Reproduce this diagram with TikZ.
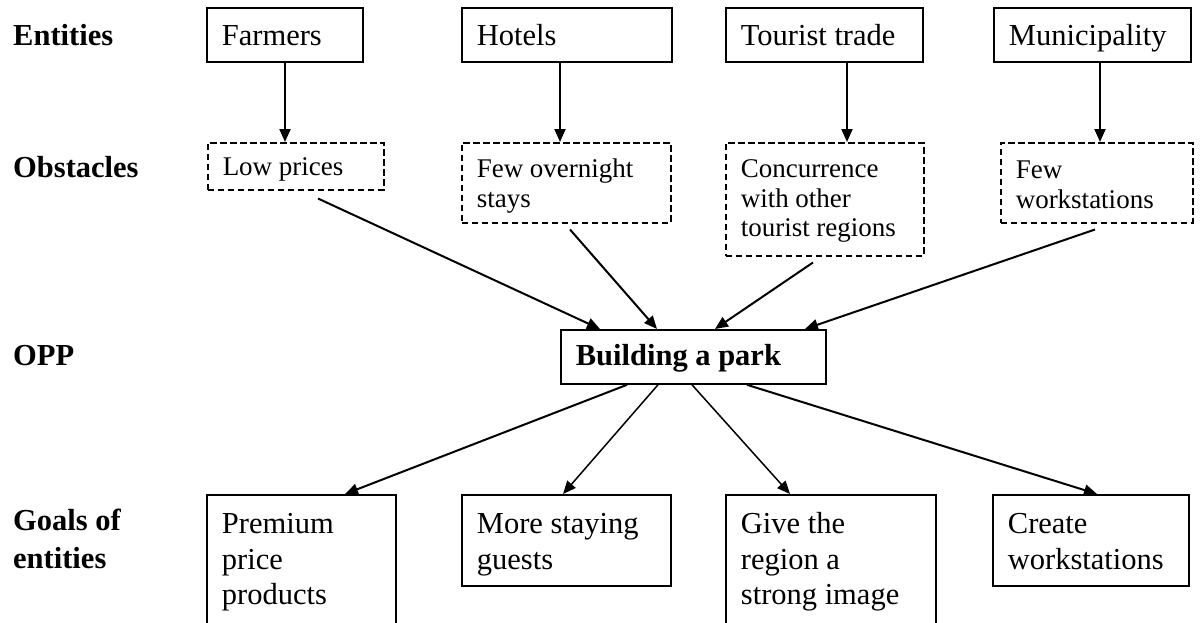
\documentclass[tikz,border=0pt]{standalone}
\usepackage{fontspec}
\setmainfont{Liberation Serif}
\usetikzlibrary{arrows.meta,calc}

% font sizes (1pt = 1 unit of the picture)
\newcommand\entfont{\fontsize{30.5}{35.5}\selectfont}
\newcommand\obsfont{\fontsize{27}{29.5}\selectfont}
\newcommand\labfont{\fontsize{30.5}{38}\selectfont\bfseries}

% box content: font, width, height, first baseline below top, text
\newcommand\cellbox[5]{\parbox[c][#3][t]{#2}{#1\vspace*{\dimexpr#4-0.7\baselineskip\relax}\raggedright\leftskip=15pt\strut#5}}

\tikzset{
  ent/.style={draw, line width=1.8pt, inner sep=0pt, anchor=north west},
  obs/.style={ent, line width=1.5pt, dash pattern=on 6.5pt off 3.5pt},
  lab/.style={anchor=base west, inner sep=0pt, font=\labfont},
  arr/.style={-{Triangle[length=13pt,width=11pt]}, line width=2pt},
  thinarr/.style={-{Triangle[length=13pt,width=11pt]}, line width=1.5pt},
}

\begin{document}
\begin{tikzpicture}[x=1pt, y=-1pt]
  \clip (0,0) rectangle (1200,622);
  \fill[white] (0,0) rectangle (1200,622);

  % row labels
  \node[lab] (lent) at (13,45) {Entities};
  \node[lab] (lobs) at (13,177) {Obstacles};
  \node[lab] (lopp) at (13,365) {OPP};
  \node[lab] (lgoal) at (13,530) {\parbox[t]{200pt}{\labfont Goals of\\entities}};

  % entities
  \node[ent] (farm) at (206,7) {\cellbox{\entfont}{156pt}{54pt}{38pt}{Farmers}};
  \node[ent] (hotel) at (461,7) {\cellbox{\entfont}{210pt}{54pt}{38pt}{Hotels}};
  \node[ent] (tour) at (725,7) {\cellbox{\entfont}{197pt}{54pt}{38pt}{Tourist trade}};
  \node[ent] (muni) at (993,7) {\cellbox{\entfont}{197pt}{54pt}{38pt}{Municipality}};

  % obstacles
  \node[obs] (lowp) at (207,142) {\cellbox{\obsfont}{176pt}{47pt}{33pt}{Low prices}};
  \node[obs] (ovn) at (461,142) {\cellbox{\obsfont}{209pt}{80pt}{35pt}{Few overnight\\stays}};
  \node[obs] (conc) at (725,142) {\cellbox{\obsfont}{198pt}{113pt}{35pt}{Concurrence\\with other\\tourist regions}};
  \node[obs] (fws) at (1000,142) {\cellbox{\obsfont}{192pt}{80pt}{36pt}{Few\\workstations}};

  % OPP
  \node[ent] (opp) at (560,329) {\cellbox{\entfont\bfseries}{265pt}{54pt}{36pt}{Building a park}};

  % goals of entities
  \node[ent] (prem) at (206,494) {\cellbox{\entfont}{189pt}{150pt}{39pt}{Premium\\price\\products}};
  \node[ent] (stay) at (461,494) {\cellbox{\entfont}{209pt}{91pt}{39pt}{More staying\\guests}};
  \node[ent] (give) at (725,494) {\cellbox{\entfont}{210pt}{150pt}{39pt}{Give the\\region a\\strong image}};
  \node[ent] (crea) at (992,494) {\cellbox{\entfont}{196pt}{91pt}{39pt}{Create\\workstations}};

  % entities -> obstacles
  \coordinate (fa) at ($(farm.south west)+(79,0)$);
  \coordinate (ha) at ($(hotel.south west)+(99,0)$);
  \coordinate (ta) at ($(tour.south west)+(122,0)$);
  \coordinate (ma) at ($(muni.south west)+(107,0)$);
  \draw[arr] (fa) -- (fa |- lowp.north);
  \draw[arr] (ha) -- (ha |- ovn.north);
  \draw[arr] (ta) -- (ta |- conc.north);
  \draw[arr] (ma) -- (ma |- fws.north);

  % obstacles -> OPP
  \draw[arr] ($(lowp.south west)+(111,8)$) -- ($(opp.north west)+(40,0)$);
  \draw[arr] ($(ovn.south west)+(109,6)$) -- ($(opp.north west)+(97,0)$);
  \draw[arr] ($(conc.south west)+(88,6)$) -- ($(opp.north west)+(155,0)$);
  \draw[arr] ($(fws.south west)+(95,6)$) -- ($(opp.north west)+(245,0)$);

  % OPP -> goals
  \draw[arr] ($(opp.south west)+(67,0)$) -- ($(prem.north west)+(139,0)$);
  \draw[thinarr] ($(opp.south west)+(98,0)$) -- ($(stay.north west)+(102,0)$);
  \draw[thinarr] ($(opp.south west)+(132,0)$) -- ($(give.north west)+(65,0)$);
  \draw[arr] ($(opp.south west)+(187,0)$) -- ($(crea.north west)+(105,0)$);
\end{tikzpicture}
\end{document}
